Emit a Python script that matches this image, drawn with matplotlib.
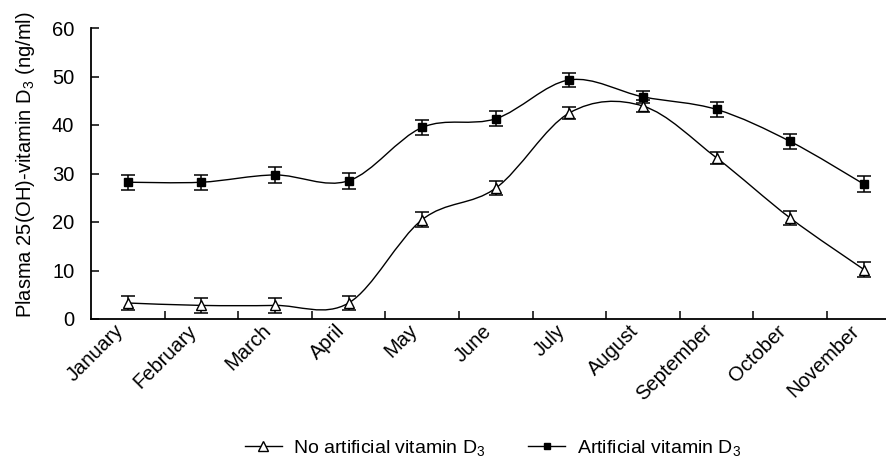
import numpy as np
import matplotlib
matplotlib.use("Agg")
import matplotlib.pyplot as plt
from matplotlib.path import Path
from matplotlib.patches import PathPatch
from matplotlib.lines import Line2D
from matplotlib.transforms import ScaledTranslation

plt.rcParams.update({
    "font.family": ["Liberation Sans", "DejaVu Sans"],
    "mathtext.default": "regular",
    "font.size": 14,
})

months = ["January", "February", "March", "April", "May", "June", "July",
          "August", "September", "October", "November"]
no_artificial = [3.3, 2.8, 2.8, 3.3, 20.5, 27.0, 42.5, 43.9, 33.2, 20.8, 10.2]
no_artificial_err = [1.5, 1.5, 1.5, 1.5, 1.5, 1.5, 1.3, 1.3, 1.3, 1.5, 1.5]
artificial = [28.2, 28.2, 29.7, 28.5, 39.5, 41.3, 49.3, 45.8, 43.2, 36.6, 27.8]
artificial_err = [1.5, 1.5, 1.6, 1.6, 1.6, 1.5, 1.5, 1.2, 1.6, 1.6, 1.6]


def smooth_path(x, y):
    # catmull-rom style bezier through the points (like a "smoothed line")
    pts = np.column_stack([x, y]).astype(float)
    n = len(pts)
    verts = [pts[0]]
    codes = [Path.MOVETO]
    for i in range(n - 1):
        p0 = pts[i - 1] if i > 0 else pts[i]
        p1 = pts[i]
        p2 = pts[i + 1]
        p3 = pts[i + 2] if i + 2 < n else pts[i + 1]
        c1 = p1 + (p2 - p0) / 6
        c2 = p2 - (p3 - p1) / 6
        verts += [c1, c2, p2]
        codes += [Path.CURVE4] * 3
    return Path(verts, codes)


fig = plt.figure(figsize=(8.86, 4.71), dpi=100)
ax = fig.add_axes([91 / 886, 1 - 319 / 471, 1 - 91 / 886, (319 - 28) / 471])

x = np.arange(len(months))
for vals, errs, marker, face in [(no_artificial, no_artificial_err, "^", "white"),
                                 (artificial, artificial_err, "s", "black")]:
    ax.add_patch(PathPatch(smooth_path(x, vals), facecolor="none",
                           edgecolor="black", lw=1.0, zorder=2))
    ax.errorbar(x, vals, yerr=errs, fmt="none", ecolor="black", elinewidth=1.1,
                capsize=5, capthick=1.1, zorder=3)
    ax.plot(x, vals, ls="none", marker=marker, ms=7.5 if marker == "^" else 6,
            mfc=face, mec="black", mew=1.0, zorder=4)

ax.set_xlim(-0.5, 10.3)
ax.set_ylim(0, 60)
ax.set_yticks(range(0, 61, 10))
ax.set_xticks(np.arange(0.5, 10, 1))
ax.set_xticklabels([])
ax.set_xticks(x, minor=True)
ax.set_xticklabels(months, minor=True, rotation=45, ha="right",
                   rotation_mode="anchor")
ax.tick_params(axis="x", which="minor", length=0, pad=1.5, labelsize=14.5)
ax.tick_params(axis="x", which="major", direction="in", length=5.5, width=1.1)
ax.tick_params(axis="y", direction="in", length=6, width=1.1, labelsize=14.5,
               pad=12)
shift = ScaledTranslation(-14 / 100, 0, fig.dpi_scale_trans)
for lab in ax.get_xticklabels(minor=True):
    lab.set_transform(lab.get_transform() + shift)
for s in ["top", "right"]:
    ax.spines[s].set_visible(False)
for s in ["left", "bottom"]:
    ax.spines[s].set_linewidth(1.3)
ax.set_ylabel("Plasma 25(OH)-vitamin D$_3$ (ng/ml)", fontsize=14.5)
ax.yaxis.set_label_coords(-0.068, 0.53)

handles = [
    Line2D([], [], color="black", lw=1.0, marker="^", ms=6.5, mfc="white",
           mec="black"),
    Line2D([], [], color="black", lw=1.0, marker="s", ms=5, mfc="black",
           mec="black"),
]
fig.legend(handles, ["No artificial vitamin D$_3$", "Artificial vitamin D$_3$"],
           loc="center", bbox_to_anchor=(493 / 886, 1 - 448 / 471), ncol=2,
           frameon=False, fontsize=14, handlelength=1.9, columnspacing=2.2,
           handletextpad=0.6)

fig.savefig("out.png", dpi=100)
